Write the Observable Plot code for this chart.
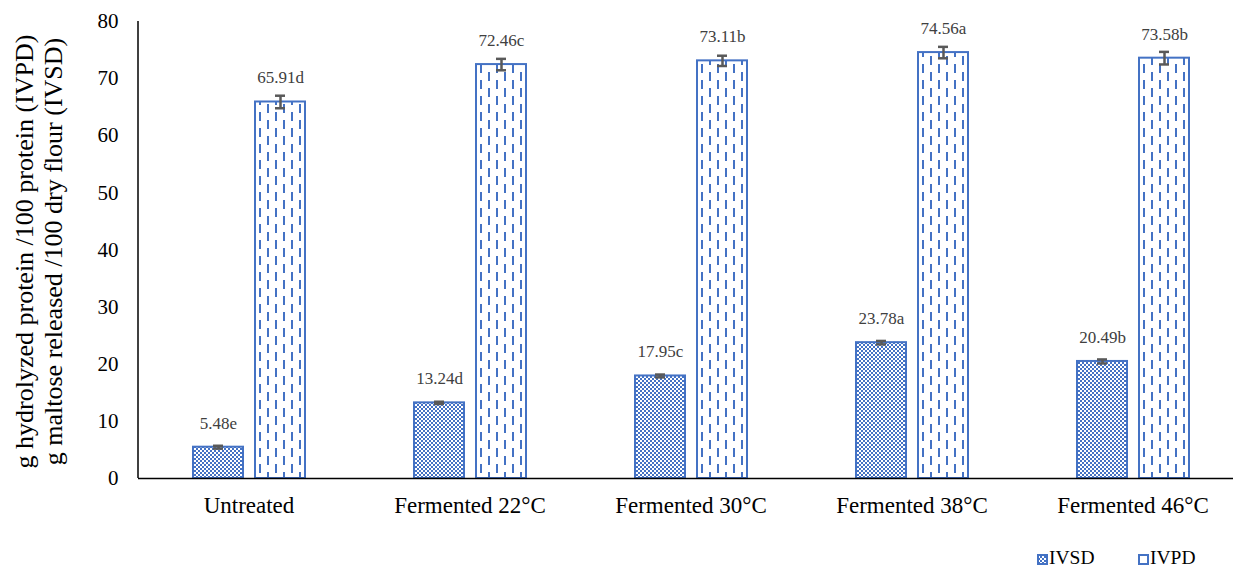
<!DOCTYPE html>
<html><head><meta charset="utf-8">
<script src="https://cdn.jsdelivr.net/npm/d3@7"></script>
<script src="https://cdn.jsdelivr.net/npm/@observablehq/plot@0.6"></script>
<style>
body{margin:0;background:#fff;font-family:'Liberation Serif','Times New Roman','DejaVu Serif',serif}
#wrap{position:relative;width:1233px;height:569px;overflow:hidden}
svg{display:block}
svg text{font-family:'Liberation Serif','Times New Roman','DejaVu Serif',serif !important}
</style>
</head><body><div id="wrap"><div id="chart"></div><div id="legend"></div></div>
<script>
const categories = ["Untreated","Fermented 22°C","Fermented 30°C","Fermented 38°C","Fermented 46°C"];
const series = ["IVSD","IVPD"];
const ivsd = [5.48,13.24,17.95,23.78,20.49];
const ivpd = [65.91,72.46,73.11,74.56,73.58];
const ivsdErr = [0.25,0.2,0.25,0.3,0.35];
const ivpdErr = [1.1,1.0,0.9,1.0,1.1];
const ivsdLetters = ["e","d","c","a","b"];
const ivpdLetters = ["d","c","b","a","b"];
const yTicks = [0,10,20,30,40,50,60,70,80];
const yLabel1 = "g hydrolyzed protein /100 protein (IVPD)";
const yLabel2 = "g maltose released /100 dry flour (IVSD)";

const BLUE = "#4472C4";
const FONT = "'Liberation Serif','Times New Roman','DejaVu Serif',serif";
const data = categories.flatMap((c,i)=>[
  {cat:c, s:"IVSD", v:ivsd[i], e:ivsdErr[i], lab: ivsd[i].toFixed(2)+ivsdLetters[i]},
  {cat:c, s:"IVPD", v:ivpd[i], e:ivpdErr[i], lab: ivpd[i].toFixed(2)+ivpdLetters[i]}
]);

const W = 1233, H = 540, ML = 138, MT = 21, MB = 62;

const chart = Plot.plot({
  width: W, height: H, marginLeft: ML, marginTop: MT, marginBottom: MB, marginRight: 0,
  style: {fontFamily: FONT, fontSize: "21px", color: "#000", background: "#fff", overflow: "visible"},
  fx: {domain: categories, range: [137.5, 1242.5], padding: 0, label: null, axis: null},
  x: {domain: series, paddingInner: 0.2, paddingOuter: 0.868, axis: null},
  y: {domain: [0, 80], ticks: yTicks, tickSize: 0, tickPadding: 20, label: null},
  marks: [
    Plot.axisFx({anchor: "bottom", tickSize: 0, tickPadding: 18, fontSize: 23, label: null}),
    Plot.barY(data.filter(d=>d.s==="IVSD"), {fx:"cat", x:"s", y:"v", fill:"url(#pIVSD)", stroke:BLUE, strokeWidth:2}),
    Plot.barY(data.filter(d=>d.s==="IVPD"), {fx:"cat", x:"s", y:"v", fill:"url(#pIVPD)", stroke:BLUE, strokeWidth:2}),
    Plot.ruleY([0], {stroke:"#000", strokeWidth:1.5}),
    Plot.ruleX(data, {fx:"cat", x:"s", y1:d=>d.v-d.e, y2:d=>d.v+d.e, stroke:"#595959", strokeWidth:2.5}),
    Plot.tickY(data, {fx:"cat", x:"s", y:d=>d.v+d.e, stroke:"#595959", strokeWidth:2.5, insetLeft:20, insetRight:20}),
    Plot.tickY(data, {fx:"cat", x:"s", y:d=>d.v-d.e, stroke:"#595959", strokeWidth:2.5, insetLeft:20, insetRight:20}),
    Plot.text(data, {fx:"cat", x:"s", y:"v", text:"lab", dy:-24, fontSize:17, fill:"#404040"})
  ]
});
document.getElementById("chart").appendChild(chart);

const svg = d3.select(chart);
const defs = svg.insert("defs", ":first-child");
const p1 = defs.append("pattern").attr("id","pIVSD").attr("patternUnits","userSpaceOnUse").attr("width",4).attr("height",4);
p1.append("rect").attr("width",4).attr("height",4).attr("fill","#fff");
p1.append("rect").attr("x",0).attr("y",0).attr("width",2).attr("height",2).attr("fill",BLUE);
p1.append("rect").attr("x",2).attr("y",2).attr("width",2).attr("height",2).attr("fill",BLUE);
const p2 = defs.append("pattern").attr("id","pIVPD").attr("patternUnits","userSpaceOnUse").attr("width",16).attr("height",16);
p2.append("rect").attr("width",16).attr("height",16).attr("fill","#fff");
p2.append("rect").attr("x",3).attr("y",0).attr("width",2).attr("height",9).attr("fill",BLUE);
p2.append("rect").attr("x",11).attr("y",8).attr("width",2).attr("height",8).attr("fill",BLUE);
p2.append("rect").attr("x",11).attr("y",0).attr("width",2).attr("height",1).attr("fill",BLUE);

const yr = chart.scale("y").range;
svg.append("line").attr("x1",ML).attr("x2",ML).attr("y1",yr[0]).attr("y2",yr[1]).attr("stroke","#000").attr("stroke-width",1.5);

const yc = (yr[0]+yr[1])/2 + 2;
[[yLabel1,33],[yLabel2,62]].forEach(([t,x])=>{
  svg.append("text").attr("transform",`translate(${x},${yc}) rotate(-90)`).attr("text-anchor","middle")
    .style("font-family",FONT).attr("font-size",26).attr("fill","#000").text(t);
});

// legend
const leg = d3.select("#legend").append("svg").attr("width",W).attr("height",29);
const items = [{s:"IVSD", x:1037, fill:"url(#pIVSD)"},{s:"IVPD", x:1138, fill:"#fff"}];
items.forEach(it=>{
  leg.append("rect").attr("x",it.x+1).attr("y",15).attr("width",9).attr("height",9).attr("fill",it.fill).attr("stroke",BLUE).attr("stroke-width",2);
  leg.append("text").attr("x",it.x+12).attr("y",24).style("font-family",FONT).attr("font-size",19.5).attr("fill","#000").text(it.s);
});
</script>
</body></html>
